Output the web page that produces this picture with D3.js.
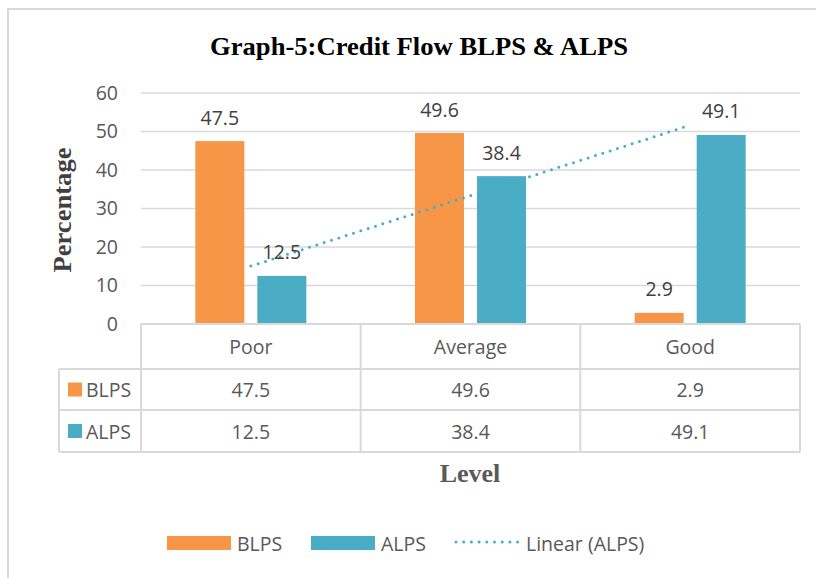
<!DOCTYPE html>
<html><head><meta charset="utf-8">
<script src="https://cdn.jsdelivr.net/npm/d3@7"></script>
<style>body{margin:0;background:#fff}svg{display:block}</style>
</head><body>
<svg id="c" width="816" height="578"></svg>
<script>
const categories = ["Poor", "Average", "Good"];
const seriesNames = ["BLPS", "ALPS"];
const blps = [47.5, 49.6, 2.9];
const alps = [12.5, 38.4, 49.1];
const yTicks = [0, 10, 20, 30, 40, 50, 60];
const colors = {BLPS: "#F79646", ALPS: "#4BACC6"};

(function () {
const svg = d3.select("#c");
const sans = "'Open Sans', 'Noto Sans', sans-serif";
const serif = "'Liberation Serif', 'Times New Roman', serif";
const fs = 19.5;

// outer frame
svg.append("rect").attr("x", 8).attr("y", 9).attr("width", 830).attr("height", 600)
  .attr("fill", "none").attr("stroke", "#d9d9d9").attr("stroke-width", 2);

const pLeft = 141, pRight = 800, pTop = 93, pBottom = 324;
const x = d3.scaleBand().domain(categories).range([pLeft, pRight]);
const y = d3.scaleLinear().domain([0, 60]).range([pBottom, pTop]);
const half = 55.5;
const sub = d3.scaleBand().domain(seriesNames)
  .range([x.bandwidth() / 2 - half, x.bandwidth() / 2 + half]).paddingInner(0.21).paddingOuter(0);

// title
svg.append("text").attr("x", 419).attr("y", 55).attr("text-anchor", "middle")
  .attr("font-family", serif).attr("font-weight", "bold").attr("font-size", 26)
  .attr("textLength", 418).attr("lengthAdjust", "spacingAndGlyphs")
  .attr("fill", "#000").text("Graph-5:Credit Flow BLPS & ALPS");

// gridlines
svg.append("g").selectAll("line").data(yTicks.filter(d => d > 0)).join("line")
  .attr("x1", pLeft).attr("x2", pRight).attr("y1", d => y(d)).attr("y2", d => y(d))
  .attr("stroke", "#d9d9d9").attr("stroke-width", 1.5);

// y axis tick labels
const yAxis = d3.axisLeft(y).tickValues(yTicks).tickSize(0).tickPadding(0);
const ya = svg.append("g").attr("transform", `translate(118,0)`).call(yAxis);
ya.select(".domain").remove();
ya.selectAll("text").attr("font-family", sans).attr("font-size", fs).attr("fill", "#595959");

// y title
svg.append("text").attr("transform", "translate(71,210) rotate(-90)").attr("text-anchor", "middle")
  .attr("font-family", serif).attr("font-weight", "bold").attr("font-size", 26)
  .attr("textLength", 125).attr("lengthAdjust", "spacingAndGlyphs")
  .attr("fill", "#404040").text("Percentage");

// bars
const data = [];
categories.forEach((c, i) => {
  data.push({cat: c, s: "BLPS", v: blps[i]});
  data.push({cat: c, s: "ALPS", v: alps[i]});
});
svg.append("g").selectAll("rect").data(data).join("rect")
  .attr("x", d => x(d.cat) + sub(d.s)).attr("width", sub.bandwidth())
  .attr("y", d => y(d.v)).attr("height", d => y(0) - y(d.v))
  .attr("fill", d => colors[d.s]);

// trendline (linear regression of ALPS)
const n = alps.length;
const xs = alps.map((_, i) => i + 1);
const mx = d3.mean(xs), my = d3.mean(alps);
const slope = d3.sum(xs.map((xi, i) => (xi - mx) * (alps[i] - my))) / d3.sum(xs.map(xi => (xi - mx) ** 2));
const icpt = my - slope * mx;
const tx1 = x(categories[0]) + x.bandwidth() / 2, tx2 = x(categories[n - 1]) + x.bandwidth() / 2;
svg.append("line").attr("x1", tx1).attr("x2", tx2)
  .attr("y1", y(icpt + slope * 1)).attr("y2", y(icpt + slope * n))
  .attr("stroke", colors.ALPS).attr("stroke-width", 3).attr("stroke-linecap", "round")
  .attr("stroke-dasharray", "0 7.7");

// data labels
svg.append("g").selectAll("text").data(data).join("text")
  .attr("x", d => x(d.cat) + sub(d.s) + sub.bandwidth() / 2)
  .attr("y", d => y(d.v) - 24).attr("text-anchor", "middle").attr("dominant-baseline", "central")
  .attr("font-family", sans).attr("font-size", fs).attr("fill", "#404040")
  .text(d => d.v);

// data table
const tg = svg.append("g");
const rowH = [324, 369, 410, 452];
const tblLeft = 59;
const lc = "#d9d9d9";
tg.append("line").attr("x1", pLeft).attr("x2", pRight).attr("y1", rowH[0]).attr("y2", rowH[0]).attr("stroke", lc).attr("stroke-width", 2);
[1, 2, 3].forEach(i => tg.append("line").attr("x1", tblLeft).attr("x2", pRight).attr("y1", rowH[i]).attr("y2", rowH[i]).attr("stroke", lc).attr("stroke-width", 2));
tg.append("line").attr("x1", tblLeft).attr("x2", tblLeft).attr("y1", rowH[1]).attr("y2", rowH[3]).attr("stroke", lc).attr("stroke-width", 2);
[pLeft, ...categories.slice(1).map(c => x(c)), pRight].forEach(xx =>
  tg.append("line").attr("x1", xx).attr("x2", xx).attr("y1", rowH[0]).attr("y2", rowH[3]).attr("stroke", lc).attr("stroke-width", 2));

tg.selectAll("text.h").data(categories).join("text").attr("class", "h")
  .attr("x", d => x(d) + x.bandwidth() / 2).attr("y", (rowH[0] + rowH[1]) / 2)
  .attr("text-anchor", "middle").attr("dominant-baseline", "central")
  .attr("font-family", sans).attr("font-size", fs).attr("fill", "#595959").text(d => d);

[blps, alps].forEach((vals, r) => {
  const cy = (rowH[r + 1] + rowH[r + 2]) / 2;
  tg.append("rect").attr("x", 68).attr("y", cy - 7).attr("width", 14).attr("height", 14).attr("fill", colors[seriesNames[r]]);
  tg.append("text").attr("x", 86).attr("y", cy).attr("dominant-baseline", "central")
    .attr("font-family", sans).attr("font-size", fs).attr("fill", "#595959").text(seriesNames[r]);
  tg.selectAll("text.v" + r).data(vals).join("text").attr("class", "v" + r)
    .attr("x", (d, i) => x(categories[i]) + x.bandwidth() / 2).attr("y", cy)
    .attr("text-anchor", "middle").attr("dominant-baseline", "central")
    .attr("font-family", sans).attr("font-size", fs).attr("fill", "#595959").text(d => d);
});

// x title
svg.append("text").attr("x", 470).attr("y", 482).attr("text-anchor", "middle")
  .attr("font-family", serif).attr("font-weight", "bold").attr("font-size", 26)
  .attr("fill", "#595959").text("Level");

// legend
const lg = svg.append("g");
const ly = 543;
lg.append("rect").attr("x", 167).attr("y", ly - 7).attr("width", 64).attr("height", 14).attr("fill", colors.BLPS);
lg.append("text").attr("x", 237).attr("y", ly).attr("dominant-baseline", "central")
  .attr("font-family", sans).attr("font-size", fs).attr("fill", "#595959").text("BLPS");
lg.append("rect").attr("x", 311).attr("y", ly - 7).attr("width", 64).attr("height", 14).attr("fill", colors.ALPS);
lg.append("text").attr("x", 381).attr("y", ly).attr("dominant-baseline", "central")
  .attr("font-family", sans).attr("font-size", fs).attr("fill", "#595959").text("ALPS");
lg.append("line").attr("x1", 456).attr("x2", 518).attr("y1", ly - 1).attr("y2", ly - 1)
  .attr("stroke", colors.ALPS).attr("stroke-width", 3).attr("stroke-linecap", "round").attr("stroke-dasharray", "0 7.7");
lg.append("text").attr("x", 526).attr("y", ly).attr("dominant-baseline", "central")
  .attr("font-family", sans).attr("font-size", fs).attr("fill", "#595959").text("Linear (ALPS)");
})();
</script>
</body></html>
